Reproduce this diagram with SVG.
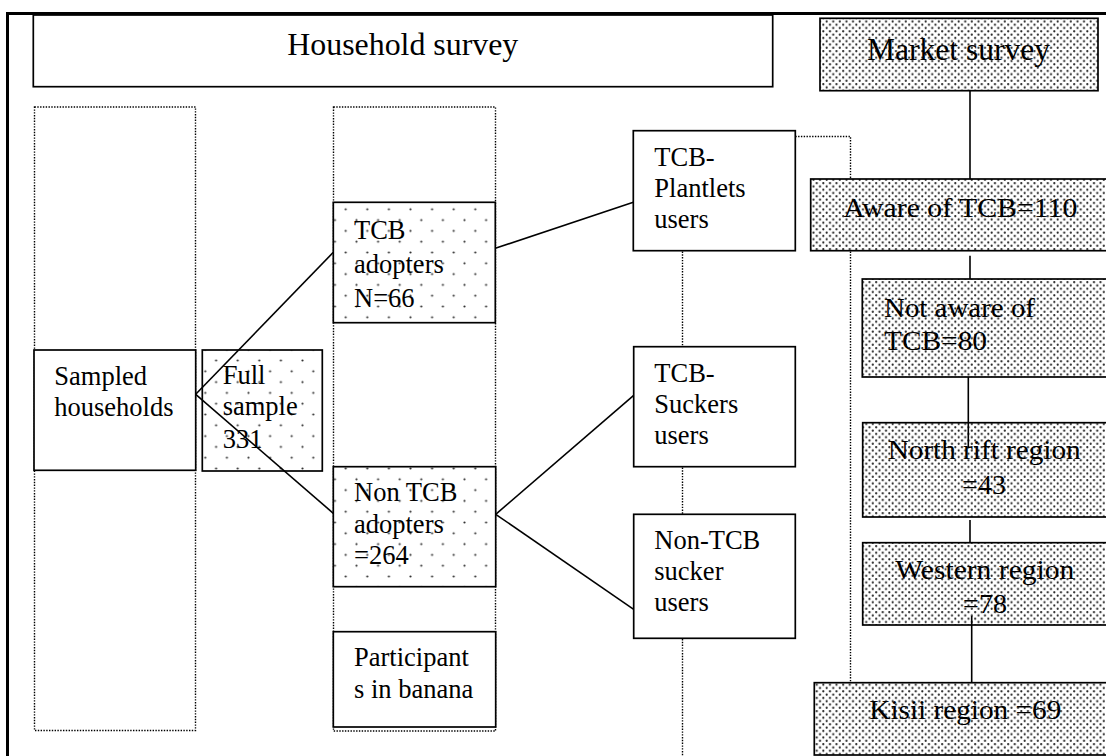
<svg xmlns="http://www.w3.org/2000/svg" width="1106" height="756" viewBox="0 0 1106 756">
<style>
.box{stroke:#000;stroke-width:1.7;fill:#fff}
.sp{stroke:#000;stroke-width:1.7;fill:url(#sparse)}
.dn{stroke:#000;stroke-width:1.7;fill:url(#dense)}
.dot{stroke:#000;stroke-width:1.4;stroke-dasharray:1.4 1.4;fill:none}
.ln{stroke:#000;stroke-width:1.6;fill:none}
text{font-family:"Liberation Serif","Times New Roman",serif;fill:#000}
.s{font-size:26.5px}
.m{font-size:28px}
.t{font-size:32px}
</style>
<defs>
<pattern id="sparse" patternUnits="userSpaceOnUse" x="340.3" y="203.9" width="21.6" height="21.6">
<rect width="21.6" height="21.6" fill="#fff"/>
<circle cx="5.4" cy="5.4" r="1.1" fill="#333"/>
<circle cx="16.2" cy="16.2" r="1.1" fill="#333"/>
</pattern>
<pattern id="dense" patternUnits="userSpaceOnUse" x="0" y="0" width="6.6" height="6.6">
<rect width="6.6" height="6.6" fill="#fff"/>
<circle cx="1.65" cy="1.65" r="1.1" fill="#222"/>
<circle cx="4.95" cy="4.95" r="1.1" fill="#222"/>
</pattern>
</defs>
<rect width="1106" height="756" fill="#fff"/>
<g id="frame"><path d="M7.5,756 V13.5 H1106" fill="none" stroke="#000" stroke-width="3"/></g>
<g id="columns">
<rect class="dot" x="34.5" y="107" width="161" height="623.5"/>
<rect class="dot" x="333.5" y="107" width="162" height="624"/>
</g>
<g id="household-survey"><rect class="box" x="33.3" y="15" width="739.4" height="71.7"/><text class="t" x="287.3" y="55" textLength="231" lengthAdjust="spacingAndGlyphs">Household survey</text></g>
<g id="market-survey"><rect class="dn" x="820" y="18.3" width="278" height="72.4"/><text class="t" x="867" y="60" textLength="183" lengthAdjust="spacingAndGlyphs">Market survey</text></g>
<g id="sampled-households"><rect class="box" x="34" y="350" width="161.7" height="120.3"/><text class="s" x="54.3" y="384.5">Sampled</text><text class="s" x="54.3" y="416">households</text></g>
<g id="full-sample"><rect class="sp" x="202.3" y="350" width="120" height="121"/><text class="s" x="222.7" y="383.5">Full</text><text class="s" x="222.7" y="415.3">sample</text><text class="s" x="222.7" y="447.7">331</text></g>
<g id="tcb-adopters"><rect class="sp" x="333.3" y="202.3" width="162" height="120.4"/><text class="s" x="354" y="239.3">TCB</text><text class="s" x="354" y="273.3">adopters</text><text class="s" x="354" y="307.3">N=66</text></g>
<g id="non-tcb-adopters"><rect class="sp" x="333.3" y="466.7" width="162.4" height="120"/><text class="s" x="354" y="501">Non TCB</text><text class="s" x="354" y="532.7">adopters</text><text class="s" x="354" y="564.3">=264</text></g>
<g id="participants"><rect class="box" x="333.3" y="631.7" width="162.4" height="95.3"/><text class="s" x="354" y="666">Participant</text><text class="s" x="354" y="697.7">s in banana</text></g>
<g id="tcb-plantlets-users"><rect class="box" x="633.3" y="130.7" width="162" height="120"/><text class="s" x="654.3" y="165.5">TCB-</text><text class="s" x="654.3" y="196.5">Plantlets</text><text class="s" x="654.3" y="227.5">users</text></g>
<g id="tcb-suckers-users"><rect class="box" x="633.7" y="346.7" width="161.6" height="120"/><text class="s" x="654.3" y="381.5">TCB-</text><text class="s" x="654.3" y="412.5">Suckers</text><text class="s" x="654.3" y="443.5">users</text></g>
<g id="non-tcb-sucker-users"><rect class="box" x="633.7" y="514.3" width="161.6" height="124"/><text class="s" x="654.3" y="549.3">Non-TCB</text><text class="s" x="654.3" y="580">sucker</text><text class="s" x="654.3" y="611">users</text></g>
<g id="aware"><rect class="dn" x="810.7" y="179" width="300" height="71.7"/><text class="m" x="843.3" y="216.7" textLength="234" lengthAdjust="spacingAndGlyphs">Aware of TCB=110</text></g>
<g id="not-aware"><rect class="dn" x="862.3" y="279" width="250" height="98"/><text class="m" x="884" y="316.7" textLength="151" lengthAdjust="spacingAndGlyphs">Not aware of</text><text class="m" x="884" y="350" textLength="103" lengthAdjust="spacingAndGlyphs">TCB=80</text></g>
<g id="north-rift"><rect class="dn" x="862.7" y="422.7" width="250" height="94.3"/><text class="m" x="887.7" y="458.7" textLength="193" lengthAdjust="spacingAndGlyphs">North rift region</text><text class="m" x="984" y="494.3" text-anchor="middle">=43</text></g>
<g id="western"><rect class="dn" x="862.7" y="542.7" width="250" height="82.3"/><text class="m" x="895.3" y="578.7" textLength="179" lengthAdjust="spacingAndGlyphs">Western region</text><text class="m" x="985" y="613.3" text-anchor="middle">=78</text></g>
<g id="kisii"><rect class="dn" x="814.3" y="682.7" width="300" height="72.3"/><text class="m" x="869.3" y="719.3" textLength="192" lengthAdjust="spacingAndGlyphs">Kisii region =69</text></g>
<g id="connectors">
<path class="ln" d="M195.7,394.3 L333.3,252.3"/>
<path class="ln" d="M195.7,394.3 L333.3,513.3"/>
<path class="ln" d="M495.3,248.3 L633.3,202.3"/>
<path class="ln" d="M495.7,514.3 L633.7,395.3"/>
<path class="ln" d="M495.7,514.3 L633.7,609.3"/>
<path class="ln" d="M970,90.7 V179"/>
<path class="ln" d="M970,255.7 V279"/>
<path class="ln" d="M968.3,377 V447.7"/>
<path class="ln" d="M970,520 V542.7"/>
<path class="ln" d="M971.7,616 V682.7"/>
<path class="dot" d="M795.3,136.5 H850.5 V179"/>
<path class="dot" d="M850.5,251.5 V682.7"/>
<path class="dot" d="M682.5,251.5 V346.7"/>
<path class="dot" d="M682.5,467.5 V514.3"/>
<path class="dot" d="M682.5,639 V756"/>
</g>
</svg>
